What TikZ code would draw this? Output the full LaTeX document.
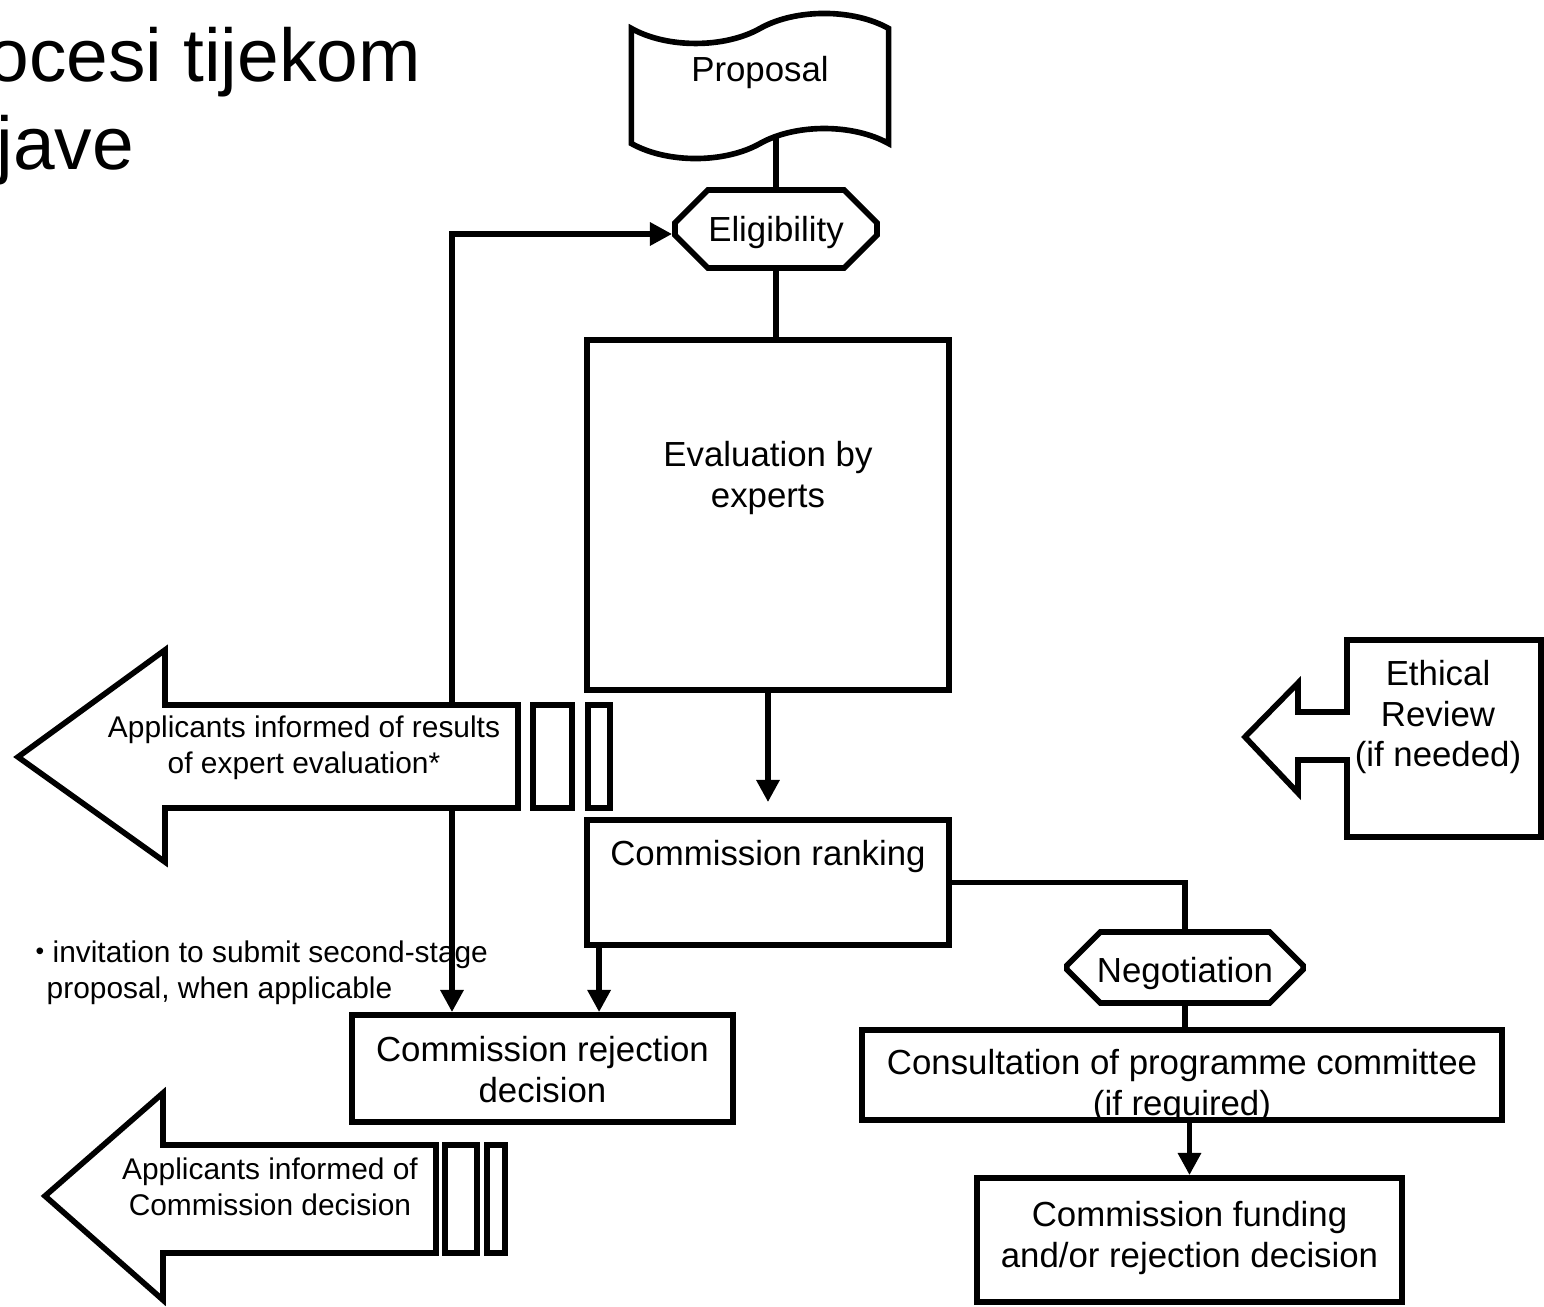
\documentclass[tikz,border=0pt]{standalone}
\usepackage{fontspec}
\setmainfont{Liberation Sans}
\usetikzlibrary{arrows.meta,shapes.misc,shapes.symbols,backgrounds}

% rows of text, first row sits on the node baseline
\newcommand{\textrows}[2][c]{\begin{tabular}[t]{@{}#1@{}}#2\end{tabular}}

\tikzset{
	conn/.style={line width=1.6pt},
	arr/.style={line width=1.6pt, -{Triangle[length=6.3pt, width=6.3pt]}},
	txt/.style={font=\fontsize{9.9}{11.4}\selectfont},
	small/.style={font=\fontsize{8.5}{10}\selectfont},
	big/.style={font=\fontsize{21.3}{25}\selectfont},
	box/.style={rectangle, draw, line width=1.6pt, inner sep=0pt, txt},
	octa/.style={chamfered rectangle, draw, line width=1.6pt, inner sep=0pt, txt},
}

\begin{document}
\begin{tikzpicture}[x=0.01cm, y=-0.01cm]
	\useasboundingbox (0,0) rectangle (1544,1307);
	\clip (0,0) rectangle (1544,1307);

	% title, cut at the left edge
	\node (title1) [big, anchor=base west, inner sep=0pt] at (-13,82) {ocesi tijekom};
	\node (title2) [big, anchor=base west, inner sep=0pt] at (-4,170) {jave};

	% main column
	\node (proposal) [tape, draw, fill=white, line width=1.6pt, inner sep=0pt, txt, minimum width=2.57cm, minimum height=1.45cm, tape bend height=0.3cm, text height=0pt, text depth=0.08cm] at (760,86) {Proposal};
	\node (elig) [octa, minimum width=2.02cm, minimum height=0.78cm, chamfered rectangle xsep=0.25cm, chamfered rectangle ysep=0.2cm, text height=0.26cm, text depth=0pt] at (776,229) {Eligibility};
	\node (eval) [box, minimum width=3.62cm, minimum height=3.5cm, text height=0pt, text depth=0.96cm] at (768,515) {\textrows{Evaluation by\\experts}};
	\node (rank) [box, minimum width=3.62cm, minimum height=1.25cm, text height=0pt, text depth=0.33cm] at (768,882.5) {Commission ranking};
	\node (reject) [box, minimum width=3.81cm, minimum height=1.07cm, text height=0pt, text depth=0.13cm] at (542.5,1068.5) {\textrows{Commission rejection\\decision}};

	% right branch
	\node (nego) [octa, minimum width=2.36cm, minimum height=0.71cm, chamfered rectangle xsep=0.2cm, chamfered rectangle ysep=0.18cm, text height=0.31cm, text depth=0pt] at (1185,967.5) {Negotiation};
	\node (consult) [box, minimum width=6.4cm, minimum height=0.9cm, text height=0pt, text depth=0pt] at (1182,1075) {\textrows{Consultation of programme committee\\(if required)}};
	\node (funding) [box, minimum width=4.25cm, minimum height=1.24cm, text height=0pt, text depth=0.26cm] at (1189.5,1240) {\textrows{Commission funding\\and/or rejection decision}};

	% ethical review box with its arrow
	\draw[conn, fill=white] (1347,640) -- (1541,640) -- (1541,837) -- (1347,837) -- (1347,760) -- (1298,760) -- (1298,793) -- (1245,737) -- (1298,683) -- (1298,712) -- (1347,712) -- cycle;
	\node (ethics) [txt, anchor=base, inner sep=0pt] at (1438,686) {\textrows{Ethical\\Review\\(if needed)}};

	% applicants informed (results)
	\draw[conn, fill=white] (518,705) -- (165,705) -- (165,650) -- (18,757) -- (165,862) -- (165,808) -- (518,808) -- cycle;
	\draw[conn] (533,705) rectangle (572,808);
	\draw[conn] (588,705) rectangle (610,808);
	\node (results) [small, anchor=base, inner sep=0pt] at (304,738) {\textrows{Applicants informed of results\\of expert evaluation*}};

	% applicants informed (decision)
	\draw[conn, fill=white] (436,1145) -- (163,1145) -- (163,1093) -- (45,1196) -- (163,1300) -- (163,1253) -- (436,1253) -- cycle;
	\draw[conn] (445,1145) rectangle (477,1253);
	\draw[conn] (487,1145) rectangle (505,1253);
	\node (decision) [small, anchor=base, inner sep=0pt] at (270,1180) {\textrows{Applicants informed of\\Commission decision}};

	\node (note) [small, anchor=base west, inner sep=0pt] at (46,963) {\textrows[l]{\hspace{-0.11cm}{\fontsize{7}{7}\selectfont\raisebox{0.15em}{•}} invitation to submit second-stage\\proposal, when applicable}};

	% connectors
	\coordinate (back) at (452,705);
	\coordinate (down) at (452,808);
	\coordinate (fork) at ([xshift=0.15cm]rank.south west);

	\begin{scope}[on background layer]
		\draw[conn] (proposal.center -| elig.north) -- (elig.north);
	\end{scope}
	\draw[conn] (elig.south) -- (eval.north -| elig.south);
	\draw[arr, shorten >=0.15cm] (eval.south) -- (rank.north);
	\draw[conn] (rank.east) -| (nego.north);
	\draw[conn] (nego.south) -- (consult.north -| nego.south);
	\draw[arr] (consult.south -| funding.north) -- (funding.north);
	\draw[arr] (fork) -- (fork |- reject.north);
	\draw[arr] (back) |- ([yshift=-0.05cm]elig.west);
	\draw[arr] (down) -- (down |- reject.north);
\end{tikzpicture}
\end{document}
